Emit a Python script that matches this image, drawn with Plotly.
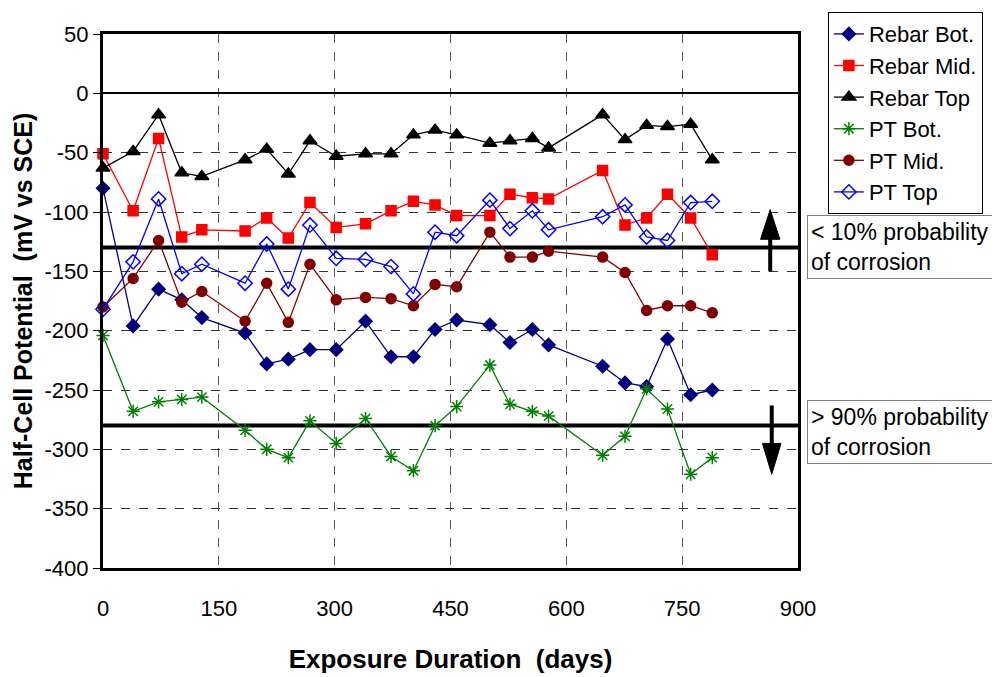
import plotly.graph_objects as go

days = [0, 39, 72, 102, 128, 184, 212, 240, 268, 302, 340, 373, 402, 430, 458,
        501, 527, 556, 577, 647, 676, 704, 731, 761, 789]

rebar_bot = [-80, -196, -165, -174, -189, -202, -228, -224, -216, -216, -192, -222, -222,
             -199, -191, -195, -210, -199, -212, -230, -244, -247, -207, -254, -250]
rebar_mid = [-51, -99, -38, -121, -115, -116, -105, -122, -92, -113, -110, -99, -91,
             -94, -103, -103, -85, -88, -89, -65, -111, -105, -85, -105, -136]
rebar_top = [-63, -49, -18, -67, -70, -56, -47, -68, -40, -53, -51, -51, -35,
             -31, -35, -42, -40, -38, -46, -18, -39, -27, -28, -26, -56]
pt_bot = [-204, -268, -260, -258, -256, -284, -300, -307, -276, -295, -274, -306, -318,
          -280, -264, -229, -262, -268, -272, -305, -289, -249, -266, -321, -307]
pt_mid = [-180, -156, -124, -176, -167, -192, -160, -193, -144, -174, -172, -173, -179,
          -161, -163, -117, -138, -138, -133, -138, -151, -183, -179, -179, -185]
pt_top = [-182, -142, -89, -152, -144, -160, -127, -165, -111, -139, -140, -146, -169,
          -117, -120, -90, -114, -99, -115, -104, -94, -121, -124, -92, -91]

series_names = ["Rebar Bot.", "Rebar Mid.", "Rebar Top", "PT Bot.", "PT Mid.", "PT Top"]
series_values = [rebar_bot, rebar_mid, rebar_top, pt_bot, pt_mid, pt_top]

x_ticks = [0, 150, 300, 450, 600, 750, 900]
y_ticks = [50, 0, -50, -100, -150, -200, -250, -300, -350, -400]

thresholds = [-130, -280]
threshold_labels = ["&lt; 10% probability<br>of corrosion", "&gt; 90% probability<br>of corrosion"]

styles = [
    dict(color="#000080", symbol="diamond", size=10),
    dict(color="#FF0000", symbol="square", size=10),
    dict(color="#000000", symbol="triangle-up", size=12),
    dict(color="#008000", symbol="asterisk-open", size=11),
    dict(color="#800000", symbol="circle", size=10),
    dict(color="#0000FF", symbol="diamond-open", size=11),
]

FONT = "Liberation Sans, Arial, sans-serif"
NB = "\u00a0"

fig = go.Figure()
for i, (name, vals, st) in enumerate(zip(series_names, series_values, styles)):
    fig.add_trace(go.Scatter(
        x=days, y=vals, name=name, mode="lines+markers",
        line=dict(color=st["color"], width=1.3),
        marker=dict(symbol=st["symbol"], size=st["size"], color=st["color"],
                    line=dict(color=st["color"], width=1.5)),
        cliponaxis=False, legendgroup=f"g{i}",
    ))

# threshold lines
for t in thresholds:
    fig.add_shape(type="line", xref="x", yref="y", x0=0, x1=900, y0=t, y1=t,
                  line=dict(color="black", width=4), layer="between")

# arrows
up_x, down_x = 864, 866
fig.add_shape(type="line", xref="x", yref="y", x0=up_x, x1=up_x, y0=-150, y1=-120,
              line=dict(color="black", width=4))
fig.add_shape(type="path", xref="x", yref="y",
              path=f"M {up_x-12.5},-123 L {up_x+12.5},-123 L {up_x},-98 Z",
              fillcolor="black", line=dict(color="black", width=1))
fig.add_shape(type="line", xref="x", yref="y", x0=down_x, x1=down_x, y0=-263, y1=-298,
              line=dict(color="black", width=4))
fig.add_shape(type="path", xref="x", yref="y",
              path=f"M {down_x-12},-295 L {down_x+12},-295 L {down_x},-321 Z",
              fillcolor="black", line=dict(color="black", width=1))

# threshold text boxes
for lab, ypos in zip(threshold_labels, [0.661, 0.3146]):
    fig.add_annotation(xref="paper", yref="paper", x=1.013, y=ypos,
                       xanchor="left", yanchor="top", text=lab, showarrow=False,
                       align="left", font=dict(family=FONT, size=23, color="black"),
                       bordercolor="#808080", borderwidth=1, borderpad=3,
                       bgcolor="white", width=196)

# page body has an 8px default margin, so the figure is sized to fit the window
fig.update_layout(
    width=992, height=669,
    margin=dict(l=95, r=202, t=26, b=109, autoexpand=False),
    paper_bgcolor="white", plot_bgcolor="white",
    font=dict(family=FONT, size=22, color="black"),
    showlegend=True,
    legend=dict(x=1.043, y=1.041, xanchor="left", yanchor="top",
                bordercolor="black", borderwidth=1, bgcolor="white",
                font=dict(family=FONT, size=22, color="black"),
                traceorder="grouped", tracegroupgap=0, itemwidth=30),
    xaxis=dict(range=[0, 900], tickvals=x_ticks, ticktext=[str(v) for v in x_ticks],
               showgrid=True, gridcolor="#555555", griddash="dash", gridwidth=1,
               showline=True, linecolor="black", linewidth=3, mirror=True,
               ticks="outside", ticklen=19, tickcolor="rgba(0,0,0,0)",
               zeroline=False, automargin=False,
               title=dict(text=f"<b>Exposure Duration{NB}{NB}(days)</b>",
                          font=dict(family=FONT, size=26), standoff=30),
               tickfont=dict(size=22)),
    yaxis=dict(range=[-400, 50], tickvals=y_ticks, ticktext=[str(v) for v in y_ticks],
               showgrid=True, gridcolor="#333333", griddash="dash", gridwidth=1,
               showline=True, linecolor="black", linewidth=3, mirror=True,
               ticks="outside", ticklen=7, tickcolor="black", tickwidth=1,
               zeroline=True, zerolinecolor="black", zerolinewidth=1.5, automargin=False,
               title=dict(text=f"<b>Half-Cell Potential{NB}{NB}(mV vs SCE)</b>",
                          font=dict(family=FONT, size=25), standoff=5),
               tickfont=dict(size=22)),
)

fig.write_html("out.html")
